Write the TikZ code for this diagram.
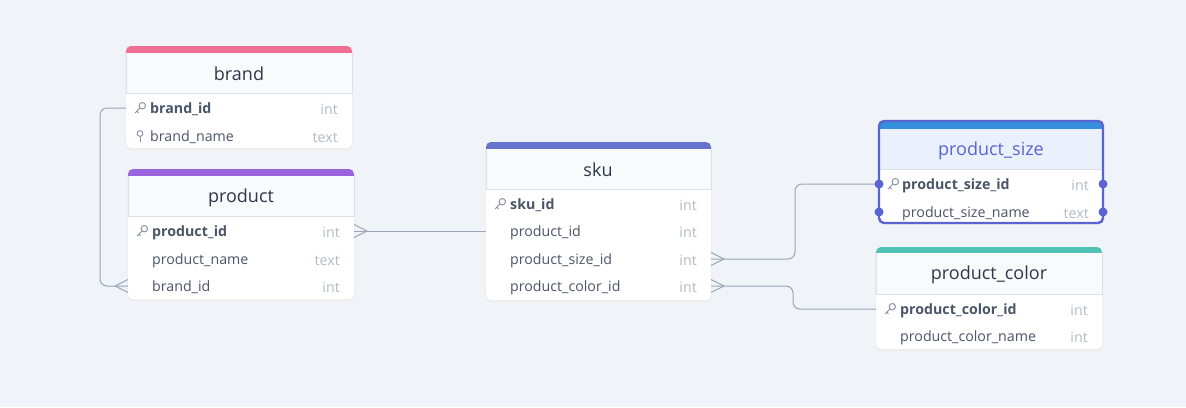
\documentclass[tikz,border=0pt]{standalone}
\usepackage{fontspec}
\setmainfont{Open Sans}
\definecolor{bg}{HTML}{F0F4F8}
\definecolor{headbg}{HTML}{F8FAFC}
\definecolor{selbg}{HTML}{EAF1FD}
\definecolor{bordc}{HTML}{DCE1E8}
\definecolor{linec}{HTML}{9AA5BA}
\definecolor{titlec}{HTML}{2D3748}
\definecolor{fieldc}{HTML}{4A5568}
\definecolor{typec}{HTML}{B4BAC4}
\definecolor{iconc}{HTML}{8A93A3}
\definecolor{cbrand}{HTML}{F06D94}
\definecolor{cproduct}{HTML}{9B63DB}
\definecolor{csku}{HTML}{6673CD}
\definecolor{csize}{HTML}{3490DC}
\definecolor{ccolor}{HTML}{4FC1B5}
\definecolor{selc}{HTML}{5B63D3}
\tikzset{
  titlefont/.style={font=\fontsize{18}{21}\selectfont, text=titlec, inner sep=0pt, yshift=-1pt},
  keyfield/.style={font=\fontsize{14.2}{16}\selectfont\bfseries, text=fieldc, anchor=west, inner sep=0pt, yshift=-1.5pt},
  field/.style={font=\fontsize{14.2}{16}\selectfont, text=fieldc, anchor=west, inner sep=0pt, yshift=-1.5pt},
  typefield/.style={font=\fontsize{14.2}{16}\selectfont, text=typec, anchor=east, inner sep=0pt, yshift=-1.5pt},
  conn/.style={draw=linec, line width=1pt, rounded corners=7},
  crow/.style={draw=linec, line width=1pt},
  seldot/.style={fill=selc},
}
\newcommand{\tbl}[8]{% x1 y1 x2 ybar yhead y2 color headbg
  \fill[black!7, rounded corners=6] (#1-1,#2+1) rectangle (#3+1,#6+2);
  \fill[white, rounded corners=5] (#1,#2) rectangle (#3,#6);
  \fill[#7, rounded corners=5] (#1,#2) rectangle (#3,#4+6);
  \fill[#8] (#1,#4) rectangle (#3,#5);
  \draw[bordc, line width=0.8pt] (#1,#4) -- (#1,#5) -- (#3,#5) -- (#3,#4);
}
\newcommand{\keyicon}[2]{%
  \draw[iconc, line width=1pt] (#1+2.3,#2-2.3) circle (3.2);
  \draw[iconc, line width=1pt] (#1,#2) -- (#1-5,#2+5);
  \draw[iconc, line width=1pt] (#1-3.2,#2+3.2) -- (#1-1.6,#2+4.8);
}
\newcommand{\pinicon}[2]{%
  \draw[iconc, line width=1pt] (#1,#2-2.5) circle (2.9);
  \draw[iconc, line width=1pt] (#1,#2+0.4) -- (#1,#2+6);
}
\begin{document}
\begin{tikzpicture}[x=1pt,y=-1pt]
\fill[bg] (0,0) rectangle (1186,407);
\useasboundingbox (0,0) rectangle (1186,407);

% ---------- brand ----------
\tbl{126}{46}{352}{53}{93}{148}{cbrand}{headbg}
\node[titlefont] (brand) at (239,73) {brand};
\keyicon{140}{108}
\node[keyfield] (brand-id) at (150,108) {brand\_id};
\node[typefield] (brand-id-t) at (338,108) {int};
\pinicon{140}{136}
\node[field] (brand-name) at (150,136) {brand\_name};
\node[typefield] (brand-name-t) at (338,136) {text};
\coordinate (brand-id-w) at (126,108);

% ---------- product ----------
\tbl{128}{169}{354}{176}{216}{299}{cproduct}{headbg}
\node[titlefont] (product) at (241,197) {product};
\keyicon{142}{231}
\node[keyfield] (product-id) at (152,231) {product\_id};
\node[typefield] (product-id-t) at (340,231) {int};
\node[field] (product-name) at (152,259) {product\_name};
\node[typefield] (product-name-t) at (340,259) {text};
\node[field] (product-brand) at (152,286) {brand\_id};
\node[typefield] (product-brand-t) at (340,286) {int};
\coordinate (product-id-e) at (354,231);
\coordinate (product-brand-w) at (128,286);

% ---------- sku ----------
\tbl{486}{142}{711}{149}{189}{300}{csku}{headbg}
\node[titlefont] (sku) at (598,169) {sku};
\keyicon{500}{204}
\node[keyfield] (sku-id) at (510,204) {sku\_id};
\node[typefield] (sku-id-t) at (697,204) {int};
\node[field] (sku-product) at (510,231) {product\_id};
\node[typefield] (sku-product-t) at (697,231) {int};
\node[field] (sku-size) at (510,259) {product\_size\_id};
\node[typefield] (sku-size-t) at (697,259) {int};
\node[field] (sku-color) at (510,286) {product\_color\_id};
\node[typefield] (sku-color-t) at (697,286) {int};
\coordinate (sku-product-w) at (486,231);
\coordinate (sku-size-e) at (711,259);
\coordinate (sku-color-e) at (711,286);

% ---------- product_size (selected) ----------
\tbl{879}{121}{1103}{129}{169}{223}{csize}{selbg}
\draw[selc, line width=2.4pt, rounded corners=5] (879,121) rectangle (1103,223);
\node[titlefont, text=selc] (size) at (991,150) {product\_size};
\keyicon{893}{184}
\node[keyfield] (size-id) at (902,184) {product\_size\_id};
\node[typefield] (size-id-t) at (1089,184) {int};
\node[field] (size-name) at (902,212) {product\_size\_name};
\node[typefield] (size-name-t) at (1089,212) {text};
\coordinate (size-id-w) at (879,184);

% ---------- product_color ----------
\tbl{876}{247}{1102}{253}{294}{349}{ccolor}{headbg}
\node[titlefont] (color) at (989,274) {product\_color};
\keyicon{890}{309}
\node[keyfield] (color-id) at (900,309) {product\_color\_id};
\node[typefield] (color-id-t) at (1088,309) {int};
\node[field] (color-name) at (900,336) {product\_color\_name};
\node[typefield] (color-name-t) at (1088,336) {int};
\coordinate (color-id-w) at (876,309);

% ---------- connectors ----------
\draw[conn] (brand-id-w) -- ++(-26,0) |- (product-brand-w);
\draw[crow] (product-brand-w) ++(-13,0) -- ++(13,-6.5);
\draw[crow] (product-brand-w) ++(-13,0) -- ++(13,6.5);

\draw[conn] (product-id-e) -- (sku-product-w);
\draw[crow] (product-id-e) ++(13,0) -- ++(-13,-6.5);
\draw[crow] (product-id-e) ++(13,0) -- ++(-13,6.5);

\draw[conn] (sku-size-e) -- (795,259) -- (795,184) -- (size-id-w);
\draw[crow] (sku-size-e) ++(13,0) -- ++(-13,-6.5);
\draw[crow] (sku-size-e) ++(13,0) -- ++(-13,6.5);

\draw[conn] (sku-color-e) -- (793,286) -- (793,309) -- (color-id-w);
\draw[crow] (sku-color-e) ++(13,0) -- ++(-13,-6.5);
\draw[crow] (sku-color-e) ++(13,0) -- ++(-13,6.5);

% selection dots
\fill[seldot] (879,184) circle (4.5);
\fill[seldot] (879,212) circle (4.5);
\fill[seldot] (1103,184) circle (4.5);
\fill[seldot] (1103,212) circle (4.5);
\end{tikzpicture}
\end{document}
